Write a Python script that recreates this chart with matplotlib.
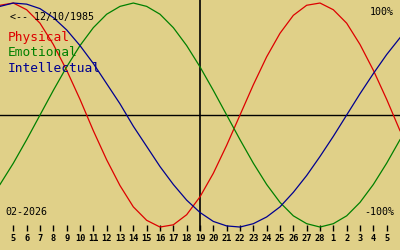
import numpy as np
import matplotlib.pyplot as plt

# days shown: 4 feb .. 6 mar 2026, one value per day
physical = [0.98, 1.00, 0.94, 0.82, 0.63, 0.40, 0.14, -0.14, -0.40, -0.63, -0.82,
            -0.94, -1.00, -0.98, -0.89, -0.73, -0.52, -0.27, 0.00, 0.27, 0.52,
            0.73, 0.89, 0.98, 1.00, 0.94, 0.82, 0.63, 0.40, 0.14, -0.14]
emotional = [-0.62, -0.43, -0.22, 0.00, 0.22, 0.43, 0.62, 0.78, 0.90, 0.97, 1.00,
             0.97, 0.90, 0.78, 0.62, 0.43, 0.22, 0.00, -0.22, -0.43, -0.62,
             -0.78, -0.90, -0.97, -1.00, -0.97, -0.90, -0.78, -0.62, -0.43, -0.22]
intellectual = [0.97, 1.00, 0.99, 0.95, 0.87, 0.76, 0.62, 0.46, 0.28, 0.10, -0.10,
                -0.28, -0.46, -0.62, -0.76, -0.87, -0.95, -0.99, -1.00, -0.97, -0.91,
                -0.82, -0.69, -0.54, -0.37, -0.19, 0.00, 0.19, 0.37, 0.54, 0.69]
etiquetas_dias = [str(d) for d in range(5, 29)] + [str(d) for d in range(1, 6)]
nacimiento = '<-- 12/10/1985'
mes = '02-2026'

fondo = '#e0d088'
rojo = '#dd0000'
verde = '#008000'
azul = '#000090'

fig = plt.figure(figsize=(4, 2.5), dpi=100, facecolor=fondo)
ax = fig.add_axes([0, 0, 1, 1])
ax.set_facecolor(fondo)
ax.axis('off')

x = np.arange(len(physical))
ax.set_xlim(0, 30)
ax.set_ylim(-1.205, 1.027)

# ejes
ax.axhline(0, color='black', lw=1)
ax.vlines(15, -1.035, 1.1, color='black', lw=1.2)
xt = np.arange(1, len(etiquetas_dias) + 1)
ax.vlines(xt, -1.035, -0.98, color='black', lw=1)
for xi, et in zip(xt, etiquetas_dias):
    ax.text(xi, -1.10, et, ha='center', va='center', fontsize=6.2,
            family='DejaVu Sans Mono', fontweight='bold', color='black')

# curvas
ax.plot(x, physical, color=rojo, lw=0.9)
ax.plot(x, emotional, color=verde, lw=0.9)
ax.plot(x, intellectual, color=azul, lw=0.9)

mono = 'DejaVu Sans Mono'
fig.text(10 / 400, 1 - 17 / 250, nacimiento, fontsize=7.2, family=mono, va='center')
fig.text(8 / 400, 1 - 38 / 250, 'Physical', fontsize=9.3, family=mono, va='center', color=rojo)
fig.text(8 / 400, 1 - 53 / 250, 'Emotional', fontsize=9.3, family=mono, va='center', color=verde)
fig.text(8 / 400, 1 - 68 / 250, 'Intellectual', fontsize=9.3, family=mono, va='center', color=azul)
fig.text(394 / 400, 1 - 12 / 250, '100%', fontsize=7.2, family=mono, va='center', ha='right')
fig.text(394 / 400, 1 - 212 / 250, '-100%', fontsize=7.2, family=mono, va='center', ha='right')
fig.text(5 / 400, 1 - 212 / 250, mes, fontsize=7.2, family=mono, va='center')

fig.savefig('out.png', dpi=100, facecolor=fondo)
